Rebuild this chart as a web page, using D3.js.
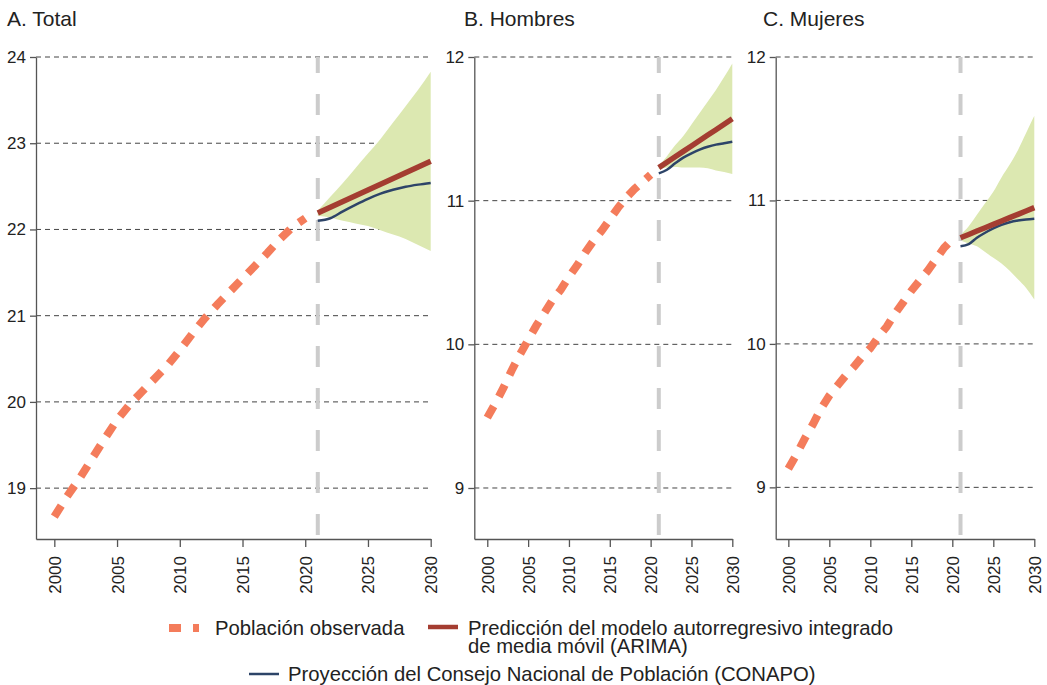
<!DOCTYPE html>
<html>
<head>
<meta charset="utf-8">
<script src="https://cdn.jsdelivr.net/npm/d3@7"></script>
<style>
  body { margin: 0; background: #fff; }
  svg { display: block; font-family: "Liberation Sans", Arial, sans-serif; }
</style>
</head>
<body>
<svg id="chart" width="1047" height="685"></svg>
<script>
// ---- Data (millions of people) ----
const observedYears = [2000, 2001, 2002, 2003, 2004, 2005, 2006, 2007, 2008, 2009, 2010,
                       2011, 2012, 2013, 2014, 2015, 2016, 2017, 2018, 2019, 2020];
const forecastYears = [2021, 2022, 2023, 2024, 2025, 2026, 2027, 2028, 2029, 2030];

const totalObserved = [18.67, 18.90, 19.11, 19.34, 19.57, 19.79, 19.97, 20.12, 20.27, 20.42, 20.60,
                       20.79, 20.97, 21.13, 21.28, 21.43, 21.58, 21.73, 21.89, 22.03, 22.13];
const totalArima    = [22.190, 22.257, 22.323, 22.390, 22.457, 22.523, 22.590, 22.657, 22.723, 22.790];
const totalUpper    = [22.22, 22.38, 22.54, 22.71, 22.88, 23.05, 23.24, 23.43, 23.62, 23.83];
const totalLower    = [22.16, 22.14, 22.10, 22.07, 22.04, 21.99, 21.94, 21.89, 21.82, 21.75];
const totalConapo   = [22.10, 22.13, 22.21, 22.285, 22.355, 22.415, 22.46, 22.495, 22.52, 22.54];

const menObserved = [9.49, 9.59, 9.70, 9.82, 9.93, 10.03, 10.13, 10.22, 10.31, 10.38, 10.47,
                     10.55, 10.64, 10.72, 10.79, 10.87, 10.95, 11.02, 11.08, 11.13, 11.18];
const menArima    = [11.230, 11.268, 11.306, 11.343, 11.381, 11.419, 11.457, 11.494, 11.532, 11.570];
const menUpper    = [11.24, 11.31, 11.385, 11.45, 11.53, 11.61, 11.69, 11.77, 11.86, 11.955];
const menLower    = [11.22, 11.23, 11.235, 11.23, 11.23, 11.23, 11.225, 11.21, 11.20, 11.185];
const menConapo   = [11.19, 11.215, 11.26, 11.30, 11.33, 11.355, 11.375, 11.39, 11.40, 11.41];

const womenObserved = [9.13, 9.23, 9.34, 9.44, 9.55, 9.64, 9.71, 9.78, 9.84, 9.91, 9.97,
                       10.05, 10.12, 10.21, 10.29, 10.37, 10.44, 10.51, 10.59, 10.67, 10.73];
const womenArima    = [10.740, 10.763, 10.787, 10.810, 10.833, 10.857, 10.880, 10.903, 10.927, 10.950];
const womenUpper    = [10.76, 10.82, 10.90, 10.98, 11.06, 11.16, 11.25, 11.35, 11.47, 11.59];
const womenLower    = [10.72, 10.70, 10.68, 10.64, 10.60, 10.56, 10.51, 10.45, 10.39, 10.31];
const womenConapo   = [10.68, 10.695, 10.74, 10.775, 10.805, 10.83, 10.848, 10.86, 10.868, 10.873];

const panelTitles = ["A. Total", "B. Hombres", "C. Mujeres"];
const xTickYears  = [2000, 2005, 2010, 2015, 2020, 2025, 2030];
const totalTicks  = [19, 20, 21, 22, 23, 24];
const sexTicks    = [9, 10, 11, 12];
const cutoffYear  = 2021;

const legendObserved = "Población observada";
const legendArima    = ["Predicción del modelo autorregresivo integrado", "de media móvil (ARIMA)"];
const legendConapo   = "Proyección del Consejo Nacional de Población (CONAPO)";

// ---- Styles ----
const C = {
  observed: "#f47c5b",
  arima: "#a43d31",
  conapo: "#2d4468",
  band: "#dce8b1",
  cutoff: "#cccccc",
  grid: "#444444",
  axis: "#555555",
  text: "#222222"
};

// ---- Panel layout ----
const plotTop = 57, plotBottom = 539;
const panels = [
  { title: panelTitles[0], titleX: 7,   left: 36,    right: 430.7,  xMin: 1998.54, yDom: [18.41, 24],
    ticks: totalTicks, obs: totalObserved, arima: totalArima, up: totalUpper, lo: totalLower, conapo: totalConapo },
  { title: panelTitles[1], titleX: 464, left: 474.3, right: 732.3,  xMin: 1998.41, yDom: [8.645, 12],
    ticks: sexTicks, obs: menObserved, arima: menArima, up: menUpper, lo: menLower, conapo: menConapo },
  { title: panelTitles[2], titleX: 763, left: 775.7, right: 1034.3, xMin: 1998.46, yDom: [8.64, 12],
    ticks: sexTicks, obs: womenObserved, arima: womenArima, up: womenUpper, lo: womenLower, conapo: womenConapo }
];

const svg = d3.select("#chart");

panels.forEach(p => {
  const x = d3.scaleLinear().domain([p.xMin, 2030]).range([p.left, p.right]);
  const y = d3.scaleLinear().domain(p.yDom).range([plotBottom, plotTop]);
  const g = svg.append("g");

  // title
  g.append("text")
    .attr("x", p.titleX).attr("y", 26)
    .attr("font-size", 21).attr("fill", C.text)
    .text(p.title);

  // horizontal dashed grid
  g.append("g").selectAll("line").data(p.ticks).join("line")
    .attr("x1", p.left).attr("x2", x(2030))
    .attr("y1", d => y(d)).attr("y2", d => y(d))
    .attr("stroke", C.grid).attr("stroke-width", 1)
    .attr("stroke-dasharray", "5,4");

  const obsPts = observedYears.map((yr, i) => ({ yr, v: p.obs[i] }));
  const fcPts = forecastYears.map((yr, i) => ({ yr, a: p.arima[i], u: p.up[i], l: p.lo[i], c: p.conapo[i] }));

  // forecast interval band
  g.append("path").datum(fcPts)
    .attr("fill", C.band)
    .attr("d", d3.area().x(d => x(d.yr)).y0(d => y(d.l)).y1(d => y(d.u)).curve(d3.curveMonotoneX));

  // cutoff marker
  g.append("line")
    .attr("x1", x(cutoffYear)).attr("x2", x(cutoffYear))
    .attr("y1", plotTop).attr("y2", plotBottom)
    .attr("stroke", C.cutoff).attr("stroke-width", 4)
    .attr("stroke-dasharray", "21,21").attr("stroke-dashoffset", 5);

  // observed population
  g.append("path").datum(obsPts)
    .attr("fill", "none").attr("stroke", C.observed).attr("stroke-width", 8)
    .attr("stroke-dasharray", "13,11")
    .attr("d", d3.line().x(d => x(d.yr)).y(d => y(d.v)));

  // CONAPO projection
  g.append("path").datum(fcPts)
    .attr("fill", "none").attr("stroke", C.conapo).attr("stroke-width", 2.5)
    .attr("d", d3.line().x(d => x(d.yr)).y(d => y(d.c)).curve(d3.curveMonotoneX));

  // ARIMA forecast
  g.append("path").datum(fcPts)
    .attr("fill", "none").attr("stroke", C.arima).attr("stroke-width", 5.5)
    .attr("d", d3.line().x(d => x(d.yr)).y(d => y(d.a)));

  // y axis
  const ya = g.append("g").attr("transform", `translate(${p.left},0)`)
    .call(d3.axisLeft(y).tickValues(p.ticks).tickSize(6).tickSizeOuter(0).tickPadding(4).tickFormat(d3.format("d")));
  ya.select(".domain").attr("stroke", C.axis).attr("stroke-width", 1.3);
  ya.selectAll(".tick line").attr("stroke", C.axis).attr("stroke-width", 1.3);
  ya.selectAll(".tick text").attr("font-size", 17).attr("fill", C.text)
    .attr("font-family", "Liberation Sans, Arial, sans-serif");

  // x axis
  const xa = g.append("g").attr("transform", `translate(0,${plotBottom})`)
    .call(d3.axisBottom(x).tickValues(xTickYears).tickSize(8).tickSizeOuter(0).tickFormat(d3.format("d")));
  xa.select(".domain").attr("stroke", C.axis).attr("stroke-width", 1.3);
  xa.selectAll(".tick line").attr("stroke", C.axis).attr("stroke-width", 1.3);
  xa.selectAll(".tick text")
    .attr("font-size", 17).attr("fill", C.text)
    .attr("font-family", "Liberation Sans, Arial, sans-serif")
    .attr("transform", "rotate(-90)")
    .attr("x", -17).attr("y", 0).attr("dy", "0.35em")
    .attr("text-anchor", "end");
});

// ---- Legend ----
const lg = svg.append("g").attr("font-size", 20.3).attr("fill", C.text);

lg.append("line").attr("x1", 169).attr("x2", 199).attr("y1", 628).attr("y2", 628)
  .attr("stroke", C.observed).attr("stroke-width", 8).attr("stroke-dasharray", "12,12");
lg.append("text").attr("x", 215).attr("y", 635).text(legendObserved);

lg.append("line").attr("x1", 428).attr("x2", 458).attr("y1", 627).attr("y2", 627)
  .attr("stroke", C.arima).attr("stroke-width", 4.5);
lg.selectAll("text.arima").data(legendArima).join("text")
  .attr("class", "arima")
  .attr("x", 468).attr("y", (d, i) => 635 + i * 18)
  .text(d => d);

lg.append("line").attr("x1", 249).attr("x2", 279).attr("y1", 674).attr("y2", 674)
  .attr("stroke", C.conapo).attr("stroke-width", 2.5);
lg.append("text").attr("x", 288).attr("y", 681).text(legendConapo);
</script>
</body>
</html>
